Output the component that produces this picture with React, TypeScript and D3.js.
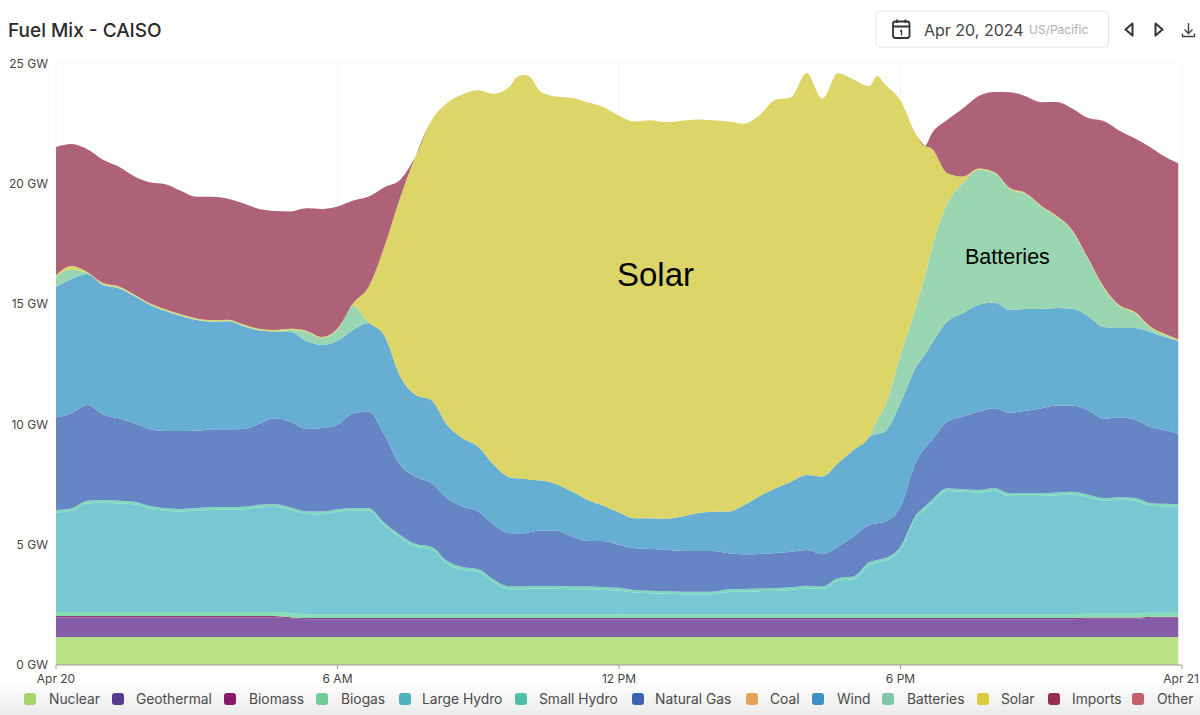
import React from "react";
import * as d3 from "d3";

const hours: number[] = [...d3.range(72).map((k) => k / 3), 9.825, 10.1, 17.5, 18.52, 23.92].sort((a, b) => a - b);

const nuclear: number[] = hours.map(() => 1.16);
const geothermal: number[] = [
  0.83,0.83,0.83,0.83,0.83,0.83,0.83,0.83,0.83,0.83,0.83,0.83,0.83,0.83,0.83,0.78,0.74,0.74,0.74,0.74,0.74,0.74,0.74,0.74,
  0.74,0.74,0.74,0.74,0.74,0.74,0.74,0.74,0.74,0.74,0.74,0.74,0.74,0.74,0.74,0.74,0.74,0.74,0.74,0.74,0.74,0.74,0.74,0.74,0.74,0.74,
  0.74,0.74,0.74,0.74,0.74,0.74,0.74,0.74,0.74,0.74,0.74,0.74,0.74,0.74,0.74,0.74,0.74,0.74,0.74,0.74,0.76,0.76,0.76,0.76,0.8,0.8,0.8,
];
const biomass: number[] = hours.map(() => 0.05);
const biogas: number[] = hours.map(() => 0.16);
const largeHydro: number[] = [
  4.14,4.21,4.52,4.55,4.52,4.48,4.30,4.21,4.18,4.22,4.25,4.26,4.27,4.35,4.37,4.29,4.17,4.16,4.26,4.30,4.30,3.68,3.19,2.81,
  2.70,2.11,1.85,1.76,1.32,1.04,1.04,1.04,1.06,1.07,1.06,1.04,1.04,1.01,0.99,0.90,0.87,0.85,0.83,0.83,0.83,0.93,0.94,0.96,0.97,1.01,
  1.08,1.04,1.39,1.46,2.05,2.15,2.22,2.70,4.02,4.37,4.64,5.13,5.09,5.06,5.13,4.92,4.92,4.92,4.95,4.98,4.84,4.70,4.74,4.70,4.45,4.42,4.41,
];
const smallHydro: number[] = hours.map(() => 0.11);
const naturalGas: number[] = [
  3.84,3.95,3.98,3.56,3.43,3.26,3.19,3.21,3.24,3.21,3.24,3.23,3.23,3.37,3.58,3.56,3.42,3.47,3.51,3.95,4.02,3.67,2.91,2.80,
  2.64,2.61,2.52,2.40,2.29,2.22,2.22,2.22,2.24,2.30,2.30,2.08,1.90,1.93,1.79,1.73,1.73,1.72,1.69,1.69,1.69,1.50,1.44,1.44,1.47,1.48,
  1.48,1.35,1.31,1.66,1.55,1.52,1.52,1.66,2.22,2.44,2.49,2.77,3.02,3.26,3.33,3.35,3.43,3.53,3.62,3.59,3.51,3.30,3.31,3.26,3.16,3.05,2.92,
];
const wind: number[] = [
  5.42,5.58,5.45,5.38,5.41,5.29,5.17,4.99,4.78,4.60,4.47,4.49,4.28,3.88,3.60,3.74,3.67,3.46,3.49,3.46,3.68,4.12,3.70,3.40,
  3.46,3.05,2.84,2.70,2.49,2.33,2.28,2.25,2.18,2.08,1.94,1.87,1.70,1.46,1.34,1.25,1.28,1.29,1.43,1.57,1.63,1.73,2.05,2.41,2.69,2.91,
  3.12,3.23,3.47,3.60,3.67,3.72,3.74,4.31,3.94,3.87,4.02,4.16,4.30,4.44,4.39,4.27,4.23,4.13,4.05,4.02,3.91,3.81,3.72,3.81,3.95,3.87,3.87,
];
const batteries: number[] = [
  0.44,0.40,0.03,0.03,0.03,0.02,0.02,0.02,0.02,0.02,0.02,0.02,0.02,0.02,0.02,0.08,0.37,0.28,0.46,1.00,0.02,0,0,0,
  0,0,0,0,0,0,0,0,0,0,0,0,0,0,0,0,0,0,0,0,0,0,0,0,0,0,
  0,0,0,0,0,0.58,1.04,2.00,2.51,3.26,3.95,4.92,5.41,5.61,5.38,5.02,4.78,4.25,3.78,3.21,2.36,1.62,0.90,0.62,0.17,0.07,0.01,
];
const solar: number[] = [
  0.06,0.14,0.05,0.05,0.05,0.05,0.05,0.05,0.05,0.05,0.05,0.05,0.05,0.05,0.05,0.05,0.05,0.05,0.05,0.11,1.50,3.71,7.40,9.93,
  11.61,13.38,14.30,14.82,15.43,16.23,16.69,16.80,16.76,16.16,16.12,16.37,16.54,16.58,16.50,16.50,16.55,16.49,16.46,16.37,16.28,16.22,15.86,15.84,16.15,15.99,
  16.72,15.71,16.21,15.40,14.57,14.30,13.41,10.58,7.14,5.43,4.16,1.25,0.27,0.05,0.05,0.05,0.05,0.05,0.05,0.05,0.05,0.05,0.05,0.05,0.05,0.05,0.05,
];
const imports: number[] = [
  5.33,5.07,5.10,5.13,4.98,4.91,5.03,5.20,5.13,5.06,5.13,5.03,5.03,4.98,4.95,4.88,5.09,5.32,5.07,4.27,3.74,2.47,0.75,0,
  0,0,0,0,0,0,0,0,0,0,0,0,0,0,0,0,0,0,0,0,0,0,0,0,0,0,
  0,0,0,0,0,0,0,0,0,0,0.62,2.22,2.84,3.02,3.33,3.99,4.02,4.30,4.74,5.06,5.83,6.90,7.25,7.21,7.46,7.36,7.32,
];

const layerNames = ["Nuclear","Geothermal","Biomass","Biogas","Large Hydro","Small Hydro","Natural Gas","Wind","Batteries","Solar","Imports"];
const layerValues = [nuclear,geothermal,biomass,biogas,largeHydro,smallHydro,naturalGas,wind,batteries,solar,imports];
const fillColors = ["#b9e284","#845ca8","#8e3f7d","#86dcb4","#78c8d3","#7ed8bd","#6685c4","#67aed3","#9bd6b2","#dcd668","#ae6278"];

const legendNames = ["Nuclear","Geothermal","Biomass","Biogas","Large Hydro","Small Hydro","Natural Gas","Coal","Wind","Batteries","Solar","Imports","Other"];
const legendColors = ["#a8d46c","#553d8c","#8a1a68","#72cb9a","#4db4bf","#4fc0a6","#3f62b2","#e0a558","#3c8fc0","#7cc8a8","#d9cb3c","#982c55","#c2606e"];
const legendSwatchX = [30,118,230,322,405,521,638,752,818,888,983,1054,1138];
const legendTextX = [49,136,249,341,422,539,655,770,837,907,1001,1072,1157];

const yTickValues = [0,5,10,15,20,25];
const xTickValues = [0,6,12,18,24];
const xTickLabels = ["Apr 20","6 AM","12 PM","6 PM","Apr 21"];

const sans = "Inter, 'Liberation Sans', sans-serif";
const arial = "'Liberation Sans', Arial, sans-serif";

export default function App() {
  const x = d3.scaleLinear().domain([0, 24]).range([56, 1182]);
  const y = d3.scaleLinear().domain([0, 25]).range([665, 63.75]);

  const rows = hours.map((h, i) => {
    const r: Record<string, number> = { h };
    layerNames.forEach((n, j) => (r[n] = layerValues[j][i]));
    return r;
  });
  const stacked = d3.stack<Record<string, number>>().keys(layerNames)(rows);
  const area = d3
    .area<d3.SeriesPoint<Record<string, number>>>()
    .x((d) => x(d.data.h))
    .y0((d) => y(d[0]))
    .y1((d) => y(d[1]))
    .curve(d3.curveMonotoneX);

  return (
    <svg width={1200} height={715} style={{ position: "absolute", left: 0, top: 0, background: "#fff" }} fontFamily={sans}>
      <defs>
        <linearGradient id="legendBand" x1="0" y1="0" x2="0" y2="1">
          <stop offset="0" stopColor="#ffffff" />
          <stop offset="0.5" stopColor="#f4f4f4" />
          <stop offset="1" stopColor="#ebebeb" />
        </linearGradient>
      </defs>
      <rect x={0} y={682} width={1200} height={33} fill="url(#legendBand)" />

      <text x={8} y={36.5} fontSize={19} fontWeight={500} fill="#2b2b2b">Fuel Mix - CAISO</text>

      <rect x={876} y={11} width={232.5} height={36} rx={4} fill="#fff" stroke="#e4e4e4" />
      <g fill="none" stroke="#333" strokeWidth={1.8}>
        <rect x={893} y={21.5} width={16.5} height={16.5} rx={2.5} />
        <path d="M893 26.5H909.5M897 19.5V23M905.5 19.5V23" />
        <path d="M900 31.5l1.5-1v5" strokeWidth={1.3} />
      </g>
      <text x={924} y={35.5} fontSize={16} fill="#444">Apr 20, 2024</text>
      <text x={1029} y={34} fontSize={12} fill="#b0b0b0">US/Pacific</text>
      <path d="M1132.5 23.5L1125.5 29.5L1132.5 35.5Z" fill="none" stroke="#333" strokeWidth={2} strokeLinejoin="round" />
      <path d="M1155.5 23.5L1162.5 29.5L1155.5 35.5Z" fill="none" stroke="#333" strokeWidth={2} strokeLinejoin="round" />
      <path d="M1188.5 23V33M1184.5 29.5L1188.5 33.5L1192.5 29.5M1182.5 33.5V36.5H1194.5V33.5" fill="none" stroke="#444" strokeWidth={1.4} />

      {xTickValues.map((t) => (
        <line key={t} x1={x(t)} x2={x(t)} y1={y(25)} y2={y(0)} stroke="#f5f5f5" />
      ))}
      <line x1={x(0)} x2={x(24)} y1={y(25)} y2={y(25)} stroke="#f7f7f7" />

      {stacked.map((s, i) => (
        <path key={s.key} d={area(s) ?? ""} fill={fillColors[i]} />
      ))}

      <line x1={x(0)} x2={x(24)} y1={y(0)} y2={y(0)} stroke="#9a9a9a" strokeWidth={1} />
      {xTickValues.map((t, i) => (
        <g key={t}>
          <line x1={x(t)} x2={x(t)} y1={y(0)} y2={y(0) + 4} stroke="#9a9a9a" />
          <text x={i === 4 ? 1199 : x(t)} y={683} fontSize={12} textAnchor={i === 4 ? "end" : "middle"} fill="#444">{xTickLabels[i]}</text>
        </g>
      ))}
      {yTickValues.map((t) => (
        <text key={t} x={48} y={y(t) + 4} fontSize={12} textAnchor="end" fill="#444">{t} GW</text>
      ))}

      {legendNames.map((n, i) => (
        <g key={n}>
          <rect x={legendSwatchX[i] - 6} y={693} width={12} height={12} rx={3} fill={legendColors[i]} />
          <text x={legendTextX[i]} y={704} fontSize={13.8} fill="#4a4a4a">{n}</text>
        </g>
      ))}

      <text x={617} y={286} fontSize={33} fontFamily={arial} fill="#000">Solar</text>
      <text x={965} y={264} fontSize={21.5} fontFamily={arial} fill="#000">Batteries</text>
    </svg>
  );
}
